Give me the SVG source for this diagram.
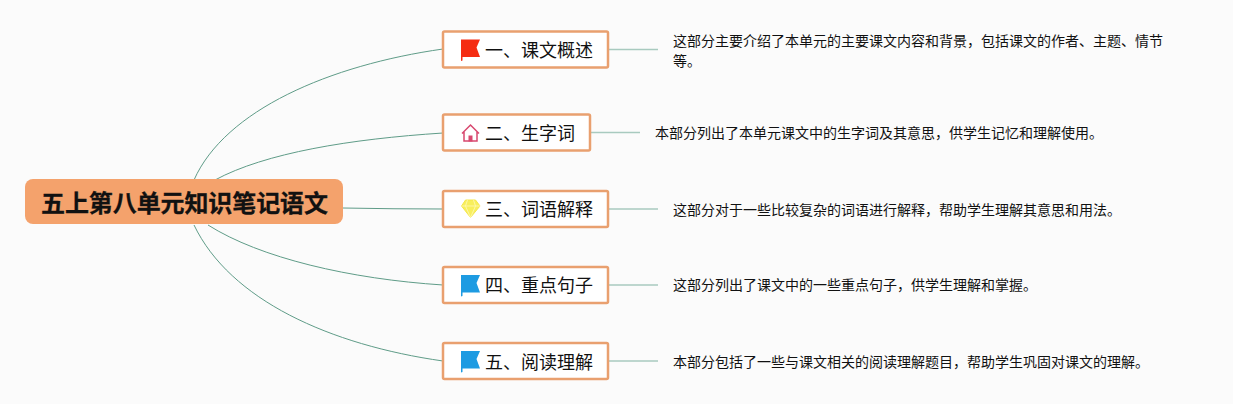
<svg xmlns="http://www.w3.org/2000/svg" width="1233" height="404" viewBox="0 0 1233 404">
<style>
text{font-family:"Noto Sans CJK SC","Liberation Sans",sans-serif;fill:#111}
.root{font-size:24px;font-weight:700;fill:#111}
.topic{font-size:18px}
.desc{font-size:14px}
.box{fill:#fff;stroke:#e9a06f;stroke-width:2.500}
.curve{fill:none;stroke:#5f9c88;stroke-width:1}
.stub{fill:none;stroke:#a8cabf;stroke-width:1.500}
</style>
<defs>
<g id="flag"><path d="M0 0H19L15.500 8L19 17.500H1.500V21L0 21.500Z"/></g>
</defs>
<rect width="1233" height="404" fill="#fbfbfb"/>
<g id="connectors">
<path class="curve" d="M194 180C225 110 330 65 443 49"/>
<path class="curve" d="M215 180C265 153 350 139 443 133"/>
<path class="curve" d="M343 208Q395 209 443 209"/>
<path class="curve" d="M208 225C260 258 350 279 443 285"/>
<path class="curve" d="M194 225C230 300 330 345 443 361"/>
<path class="stub" d="M608 49.500H658"/>
<path class="stub" d="M590 132.500H640"/>
<path class="stub" d="M608 209H658"/>
<path class="stub" d="M608 285H658"/>
<path class="stub" d="M608 361H658"/>
</g>
<g id="root">
<rect x="25" y="179" width="318" height="45" rx="8" fill="#f4a26c"/>
<text class="root" x="184.500" y="212" text-anchor="middle" textLength="287" lengthAdjust="spacing" stroke="#111" stroke-width=".3">五上第八单元知识笔记语文</text>
</g>
<g id="n1">
<rect class="box" x="443" y="31.500" width="165" height="36" rx="1.500"/>
<use href="#flag" x="461" y="39.500" fill="#f52c12"/>
<text class="topic" x="485" y="57">一、课文概述</text>
</g>
<g id="n2">
<rect class="box" x="443" y="114.500" width="147" height="36" rx="1.500"/>
<path d="M462 133.500L470.500 125L479 133.500M464 132V141H477V132" fill="none" stroke="#d8486f" stroke-width="1.500"/>
<rect x="468.500" y="135.500" width="4" height="6" fill="#d8486f"/>
<text class="topic" x="485" y="139.500">二、生字词</text>
</g>
<g id="n3">
<rect class="box" x="443" y="191" width="165" height="36" rx="1.500"/>
<path d="M465.500 200H475.500L480 206L470.500 217.500L461.500 206Z" fill="#f8ef5d" stroke="#f5e74a"/>
<path d="M461.500 206H480M467.500 200L465.500 206L470.500 217.500L475.500 206L473.500 200" fill="none" stroke="#fff9b8" stroke-width=".8"/>
<text class="topic" x="485" y="215.500">三、词语解释</text>
</g>
<g id="n4">
<rect class="box" x="443" y="267" width="165" height="36" rx="1.500"/>
<use href="#flag" x="461" y="275" fill="#1d9be2"/>
<text class="topic" x="485" y="292">四、重点句子</text>
</g>
<g id="n5">
<rect class="box" x="443" y="343" width="165" height="36" rx="1.500"/>
<use href="#flag" x="461" y="351" fill="#1d9be2"/>
<text class="topic" x="485" y="368.500">五、阅读理解</text>
</g>
<g id="d1">
<text class="desc" x="673" y="46">这部分主要介绍了本单元的主要课文内容和背景，包括课文的作者、主题、情节</text>
<text class="desc" x="673" y="66">等。</text>
</g>
<g id="d2"><text class="desc" x="655" y="138">本部分列出了本单元课文中的生字词及其意思，供学生记忆和理解使用。</text></g>
<g id="d3"><text class="desc" x="673" y="215">这部分对于一些比较复杂的词语进行解释，帮助学生理解其意思和用法。</text></g>
<g id="d4"><text class="desc" x="673" y="290">这部分列出了课文中的一些重点句子，供学生理解和掌握。</text></g>
<g id="d5"><text class="desc" x="673" y="367">本部分包括了一些与课文相关的阅读理解题目，帮助学生巩固对课文的理解。</text></g>
</svg>
